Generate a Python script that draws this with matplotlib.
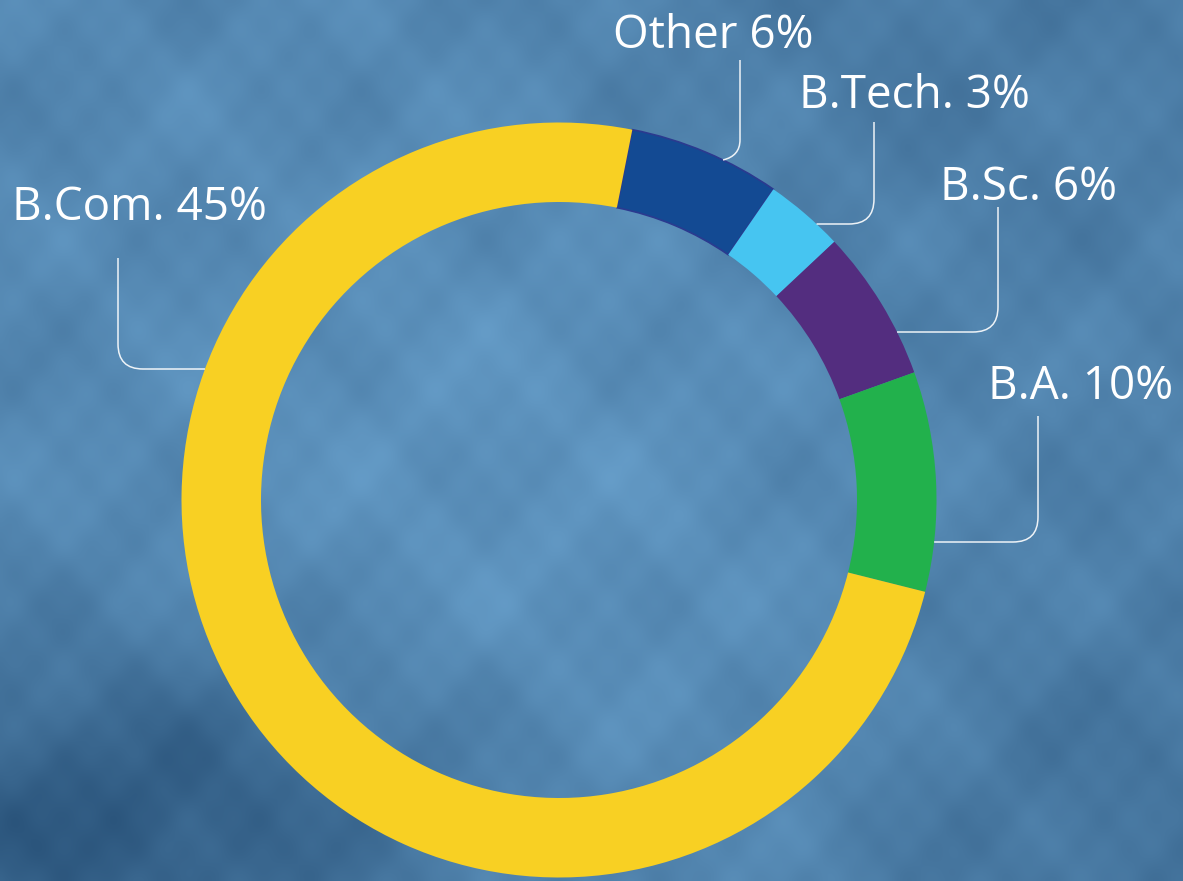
import numpy as np
import matplotlib.pyplot as plt
from matplotlib.path import Path
from matplotlib.patches import PathPatch

W, H = 1183, 881

# data
programmes = ['B.Com.', 'Other', 'B.Tech.', 'B.Sc.', 'B.A.']
printed_pct = [45, 6, 3, 6, 10]
# part of the ring each arc covers (printed % don't add up)
arc_share = [74.2, 6.5, 3.4, 6.5, 9.4]
colors = ['#F8D023', '#134A93', '#46C5F1', '#532D7F', '#22B14C']

# ring geometry (pixels, y down)
CX, CY, R, RING = 559, 500, 377.5, 79.5

# label: left x / baseline y ; leader: vertical x, top y, elbow y
label_pos = {
    'B.Com.': (12, 220, 118, 258, 369),
    'Other': (613, 48, 740, 60, None),
    'B.Tech.': (799, 108, 874, 122, 224),
    'B.Sc.': (940, 200, 998, 207, 332),
    'B.A.': (988, 399, 1038, 416, 542),
}


def px(x, y):
    return x, H - y


def ring_x(y, side):
    return CX + side * np.sqrt(R ** 2 - (y - CY) ** 2)


def ring_y_top(x):
    return CY - np.sqrt(R ** 2 - (x - CX) ** 2)


def background(ax):
    yy, xx = np.mgrid[0:H:3, 0:W:3].astype(float)
    v = -1.1 * np.exp(-((xx - 120) ** 2 / (2 * 230 ** 2) + (yy - 820) ** 2 / (2 * 120 ** 2)))
    v += -0.45 * np.exp(-((xx - 1120) ** 2 + (yy - 860) ** 2) / (2 * 220 ** 2))
    v += -0.35 * np.exp(-((xx - 900) ** 2 + (yy - 40) ** 2) / (2 * 260 ** 2))
    v += 0.35 * np.exp(-((xx - 560) ** 2 + (yy - 440) ** 2) / (2 * 300 ** 2))
    # soft blotches
    v += 0.16 * np.sin(xx / 47 + 0.7) * np.sin(yy / 39 + 1.9)
    v += 0.10 * np.sin(xx / 19.3 + 1.3) * np.sin(yy / 23.1 + 0.4)
    v += 0.06 * np.sin(xx / 7.9) * np.sin(yy / 9.7 + 2.1)
    base = np.array([0.325, 0.525, 0.69])
    delta = np.array([0.13, 0.16, 0.17])
    img = np.clip(base + v[..., None] * delta, 0, 1)
    ax.imshow(img, extent=(0, W, 0, H), origin='upper', aspect='auto',
              interpolation='bicubic', zorder=0)


def leader(ax, name):
    tx, ty, xv, ytop, yel = label_pos[name]
    r = 25
    if yel is None:
        # goes straight down then bends into the ring
        xe = xv - 17
        ye = ring_y_top(xe)
        verts = [px(xv, ytop), px(xv, ye - 20), px(xv, ye - 4), px(xe, ye)]
        codes = [Path.MOVETO, Path.LINETO, Path.CURVE3, Path.CURVE3]
    else:
        side = 1 if xv > CX else -1
        xe = ring_x(yel, side)
        d = 1 if xe > xv else -1
        verts = [px(xv, ytop), px(xv, yel - r), px(xv, yel),
                 px(xv + d * r, yel), px(xe, yel)]
        codes = [Path.MOVETO, Path.LINETO, Path.CURVE3, Path.CURVE3, Path.LINETO]
    ax.add_patch(PathPatch(Path(verts, codes), facecolor='none',
                           edgecolor='white', lw=1.1, alpha=0.9, zorder=3,
                           capstyle='butt'))
    ax.text(*px(tx, ty), f"{name.rstrip('.') if name == 'Other' else name} "
            f"{printed_pct[programmes.index(name)]}%",
            color='white', fontsize=33, family=['Open Sans', 'DejaVu Sans'],
            ha='left', va='baseline', zorder=4)


def main():
    fig = plt.figure(figsize=(W / 100, H / 100), dpi=100)
    ax = fig.add_axes([0, 0, 1, 1])
    background(ax)

    order = [1, 2, 3, 4, 0]  # ring starts with Other, just right of 12 o'clock
    wedges, _ = ax.pie([arc_share[i] for i in order],
                       colors=[colors[i] for i in order],
                       startangle=90 - 11.2, counterclock=False,
                       radius=R, center=px(CX, CY),
                       wedgeprops=dict(width=RING, linewidth=0))
    for w in wedges:
        w.set_zorder(2)
    wedges[0].set_edgecolor('#2B3A8F')
    wedges[0].set_linewidth(1.2)

    for name in programmes:
        leader(ax, name)

    ax.set_xlim(0, W)
    ax.set_ylim(0, H)
    ax.axis('off')
    fig.savefig('out.png', dpi=100)
    plt.close(fig)


if __name__ == '__main__':
    main()
